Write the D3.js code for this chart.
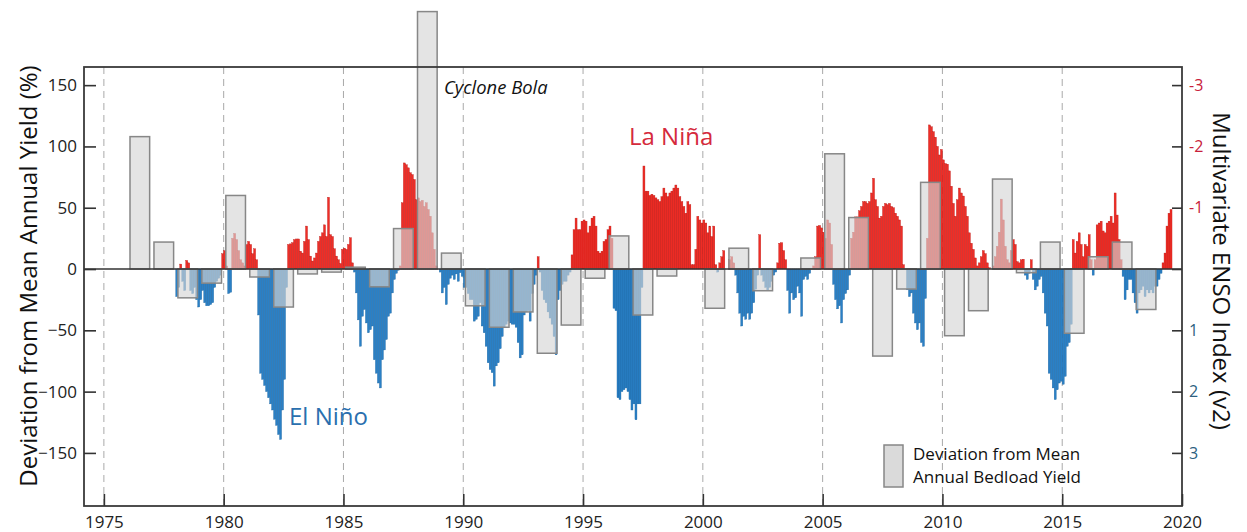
<!DOCTYPE html>
<html><head><meta charset="utf-8">
<script src="https://cdn.jsdelivr.net/npm/d3@7"></script>
<style>
html,body{margin:0;padding:0;background:#fff;}
svg{display:block;font-family:"Open Sans",sans-serif;}
</style></head>
<body>
<svg id="chart" width="1247" height="532"></svg>
<script>
// ---------- DATA ----------
const yieldYears = [1976,1977,1978,1979,1980,1981,1982,1983,1984,1985,1986,1987,1988,1989,1990,1991,1992,1993,1994,1995,1996,1997,1998,2000,2001,2002,2004,2005,2006,2007,2008,2009,2010,2011,2012,2013,2014,2015,2016,2017,2018];
const yieldDeviation = [108,22,-23.5,-11.5,60,-6.5,-31,-4,-2.5,1.5,-14.5,33,210,13,-30,-47.5,-35,-68.7,-45.7,-7.5,27,-37.5,-5.7,-32,17,-17.7,9,94,42,-71,-16.3,70.7,-54.4,-34,73.4,-3,22,-52.4,10,22,-33];

const ensoStart = 1978; // first month (January) of the monthly MEI series as drawn
const ensoMonthly = [
 0.45,0.3,-0.08,0.2,0.35,-0.14,-0.1,0.35,0.4,0.3,0.5,0.62,
 0.5,0.35,0.55,0.6,0.6,0.58,0.55,0.3,0.2,0.15,0.1,-0.25,
 -0.3,-0.05,0.4,0.38,-0.5,-0.58,-0.48,-0.3,-0.15,-0.1,-0.05,-0.4,
 -0.45,-0.4,-0.25,-0.33,-0.15,0.75,1.7,1.8,1.9,2.0,2.1,2.2,
 2.3,2.45,2.55,2.7,2.78,2.3,1.8,0.3,-0.4,-0.41,-0.43,-0.48,
 -0.49,-0.49,-0.29,-0.26,-0.45,-0.7,-0.48,-0.21,-0.13,-0.18,-0.26,-0.45,
 -0.53,-0.59,-0.72,-0.53,-1.17,-0.56,-0.53,-0.33,-0.21,-0.15,-0.09,-0.32,
 -0.34,-0.32,-0.4,-0.51,-0.1,0.05,0.39,0.83,1.26,0.77,0.66,0.88,
 1.04,0.99,0.93,1.48,1.7,1.86,1.94,1.48,1.32,1.15,0.77,0.72,
 0.39,0.17,0.07,0.02,-0.05,-1.08,-1.73,-1.7,-1.65,-1.57,-1.54,-1.46,
 -1.13,-1.16,-1.1,-1.12,-1.02,-1.08,-0.97,-0.86,-0.59,-0.32,-0.05,0.0,
 0.05,0.39,0.3,0.58,0.25,0.15,0.1,0.17,0.08,0.2,0.06,0.12,
 0.3,0.3,0.4,0.5,0.5,0.85,0.82,0.77,0.55,0.93,1.04,1.26,
 1.53,1.64,1.69,1.91,1.58,1.53,1.3,1.1,0.95,0.9,0.85,0.88,
 0.9,0.9,0.95,1.2,1.45,1.4,0.75,0.7,0.68,0.85,0.4,0.25,
 0.1,-0.2,0.05,0.35,0.5,0.55,0.7,0.8,0.9,1.1,1.4,0.5,
 0.35,0.25,0.2,0.2,0.1,0.05,-0.23,-0.64,-0.83,-0.64,-0.64,-0.78,
 -0.8,-0.78,-0.59,-0.7,-0.83,-0.86,-0.7,-0.29,-0.26,-0.29,-0.45,-0.48,
 -0.64,-0.7,-0.5,0.64,0.68,2.1,2.13,2.0,1.97,1.94,2.0,2.13,
 2.3,2.2,2.46,2.2,2.2,0.3,-1.68,-1.27,-1.27,-1.2,-1.22,-1.2,
 -1.16,-1.13,-1.1,-1.18,-1.32,-1.24,-1.18,-1.24,-1.27,-1.32,-1.37,-1.32,
 -1.18,-1.1,-1.02,-0.91,-1.1,-1.05,-0.07,-0.07,-0.32,-0.86,-0.8,-0.75,
 -0.8,-0.75,-0.59,-0.7,-0.53,-0.7,-0.07,0.05,-0.1,-0.2,-0.3,0.0,
 0.0,-0.15,-0.2,-0.1,0.1,0.39,0.72,0.93,0.77,0.82,0.72,0.82,
 0.72,0.55,0.33,0.1,-0.56,0.1,0.2,0.3,0.35,0.3,0.2,0.1,
 0.05,-0.1,-0.42,-0.43,-0.3,-0.15,0.35,0.72,0.39,0.5,0.47,0.28,
 0.39,0.77,0.17,0.12,0.17,0.07,0.0,-0.05,-0.2,-0.7,-0.71,-0.67,
 -0.6,-0.5,-0.8,-0.75,-0.4,0.25,0.5,0.65,0.6,0.88,0.5,0.4,
 0.34,0.1,-0.5,-0.6,-0.85,-0.85,-0.95,-1.02,-1.1,-1.1,-1.07,-1.1,
 -1.24,-1.48,-1.13,-1.02,-0.83,-0.86,-1.02,-1.07,-1.05,-1.07,-1.02,-1.0,
 -0.91,-0.86,-0.8,-0.7,-0.07,0.0,0.34,0.45,0.39,0.72,0.88,0.99,
 0.88,1.2,1.26,0.48,-0.5,-2.35,-2.32,-2.24,-2.15,-2.0,-1.86,-1.95,
 -1.78,-1.72,-1.71,-1.6,-1.35,-1.07,-0.86,-1.13,-1.32,-1.24,-1.19,-1.02,
 -0.86,-0.59,-0.42,-0.32,-0.18,-0.05,-0.1,-0.2,-0.3,-0.25,-0.1,-0.02,
 0.0,-0.05,-0.2,-0.37,-0.6,-1.14,-0.8,-0.37,-0.15,-0.1,-0.3,-0.48,
 -0.4,-0.12,-0.1,-0.15,-0.16,0.1,0.17,0.07,-0.15,0.17,0.34,0.28,
 0.17,0.12,0.39,0.72,0.93,1.7,1.8,1.94,2.13,1.97,1.86,1.83,
 1.88,1.75,1.26,1.2,0.9,-0.48,-0.26,-0.45,-0.59,-0.4,-0.2,-0.4,
 -0.37,-0.56,-0.15,0.1,-0.15,-0.72,-0.75,-0.78,-0.62,-0.59,-0.75,-0.78,
 -0.86,-0.75,-1.24,-0.88,-0.48,-0.15,0.12,0.5,0.34,0.17,0.17,0.39,
 0.55,0.72,0.39,0.34,0.28,0.45,0.34,0.39,0.34,0.39,0.28,0.28,
 0.17,0.07,-0.1,-0.26,-0.7,-0.91,-0.97
];

const xTicks = [1975,1980,1985,1990,1995,2000,2005,2010,2015,2020];
const leftTicks = [150,100,50,0,-50,-100,-150];
const rightTicks = [-3,-2,-1,0,1,2,3];
const rightTickLabels = ["-3","-2","-1","","1","2","3"];

// ---------- LAYOUT ----------
const svg = d3.select("#chart");
const L = 84, R = 1182, T = 67, B = 506;

const x = d3.scaleLinear().domain([1974.17, 2020]).range([L, R]);
const yL = d3.scaleLinear().domain([-193.3, 164.8]).range([B, T]);
const yR = d3.scaleLinear().domain([3.866, -3.295]).range([B, T]);

const red = "#f02d26", redEdge = "#b51612";
const blue = "#2a80c6", blueEdge = "#17609c";

// dashed vertical grid
svg.append("g").selectAll("line").data(xTicks.filter(d => d < 2020)).join("line")
  .attr("x1", d => x(d)).attr("x2", d => x(d))
  .attr("y1", T).attr("y2", B)
  .attr("stroke", "#a9a9a9").attr("stroke-width", 1)
  .attr("stroke-dasharray", "7,5");

// ENSO monthly bars
const enso = ensoMonthly.map((v, i) => ({t: ensoStart + i / 12, v}));
const mw = x(ensoStart + 1/12) - x(ensoStart);
svg.append("g").selectAll("rect").data(enso).join("rect")
  .attr("x", d => x(d.t))
  .attr("width", mw)
  .attr("y", d => Math.min(yR(d.v), yR(0)))
  .attr("height", d => Math.abs(yR(d.v) - yR(0)))
  .attr("fill", d => d.v < 0 ? red : blue)
  .attr("stroke", d => d.v < 0 ? redEdge : blueEdge)
  .attr("stroke-width", 0.35);

// annual bedload yield deviation bars
const yieldData = yieldYears.map((y, i) => ({y, v: yieldDeviation[i]}));
svg.append("g").selectAll("rect").data(yieldData).join("rect")
  .attr("x", d => x(d.y + 0.09))
  .attr("width", x(d3.min(yieldYears) + 0.91) - x(d3.min(yieldYears) + 0.09))
  .attr("y", d => Math.min(yL(d.v), yL(0)))
  .attr("height", d => Math.abs(yL(d.v) - yL(0)))
  .attr("fill", "#d4d4d4").attr("fill-opacity", 0.64)
  .attr("stroke", "#878787").attr("stroke-width", 1.5);

// zero line
svg.append("line").attr("x1", L).attr("x2", R).attr("y1", yL(0)).attr("y2", yL(0))
  .attr("stroke", "#333").attr("stroke-width", 1.4);

// frame
svg.append("rect").attr("x", L).attr("y", T).attr("width", R - L).attr("height", B - T)
  .attr("fill", "none").attr("stroke", "#3a3a3a").attr("stroke-width", 1.8);

// axes
const axL = d3.axisLeft(yL).tickValues(leftTicks).tickSize(-12).tickPadding(20).tickFormat(d3.format("d"));
const gL = svg.append("g").attr("transform", `translate(${L},0)`).call(axL);
gL.select(".domain").remove();
gL.selectAll("line").attr("stroke", "#333").attr("stroke-width", 1.6);
gL.selectAll("text").attr("font-size", 17).attr("fill", "#222").attr("x", -7)
  .attr("font-family", "Open Sans");

const axR = d3.axisRight(yR).tickValues(rightTicks).tickSize(-10).tickPadding(17)
  .tickFormat((d, i) => rightTickLabels[i]);
const gR = svg.append("g").attr("transform", `translate(${R},0)`).call(axR);
gR.select(".domain").remove();
gR.selectAll("line").attr("stroke", "#333").attr("stroke-width", 1.6);
gR.selectAll("text").attr("font-size", 16).attr("x", 7).attr("font-family", "Open Sans")
  .attr("fill", d => d < 0 ? "#c8203a" : "#2d5f80");

const axB = d3.axisBottom(x).tickValues(xTicks).tickSize(-12).tickPadding(10).tickFormat(d3.format("d"));
const gB = svg.append("g").attr("transform", `translate(0,${B})`).call(axB);
gB.select(".domain").remove();
gB.selectAll("line").attr("stroke", "#333").attr("stroke-width", 1.6);
gB.selectAll("text").attr("font-size", 17).attr("fill", "#222").attr("y", 10)
  .attr("font-family", "Open Sans");

// axis titles
svg.append("text").attr("transform", "translate(27,276) rotate(-90)")
  .attr("text-anchor", "middle").attr("dominant-baseline", "central")
  .attr("font-size", 24).attr("fill", "#111")
  .text("Deviation from Mean Annual Yield (%)");
svg.append("text").attr("transform", "translate(1222,271) rotate(90)")
  .attr("text-anchor", "middle").attr("dominant-baseline", "central")
  .attr("font-size", 24).attr("fill", "#111")
  .text("Multivariate ENSO Index (v2)");

// annotations
svg.append("text").attr("x", 444).attr("y", 94).attr("font-size", 18.4)
  .attr("font-style", "italic").attr("fill", "#111").text("Cyclone Bola");
svg.append("text").attr("x", 629).attr("y", 145).attr("font-size", 24)
  .attr("fill", "#d52a3c").text("La Niña");
svg.append("text").attr("x", 289).attr("y", 425).attr("font-size", 24)
  .attr("fill", "#2a6fae").text("El Niño");

// legend
svg.append("rect").attr("x", 884).attr("y", 445).attr("width", 19).attr("height", 42)
  .attr("fill", "#d4d4d4").attr("fill-opacity", 0.85)
  .attr("stroke", "#878787").attr("stroke-width", 1.5);
svg.append("text").attr("x", 913).attr("y", 459.5).attr("font-size", 17).attr("fill", "#111")
  .text("Deviation from Mean");
svg.append("text").attr("x", 913).attr("y", 483).attr("font-size", 17).attr("fill", "#111")
  .text("Annual Bedload Yield");
</script>
</body></html>
